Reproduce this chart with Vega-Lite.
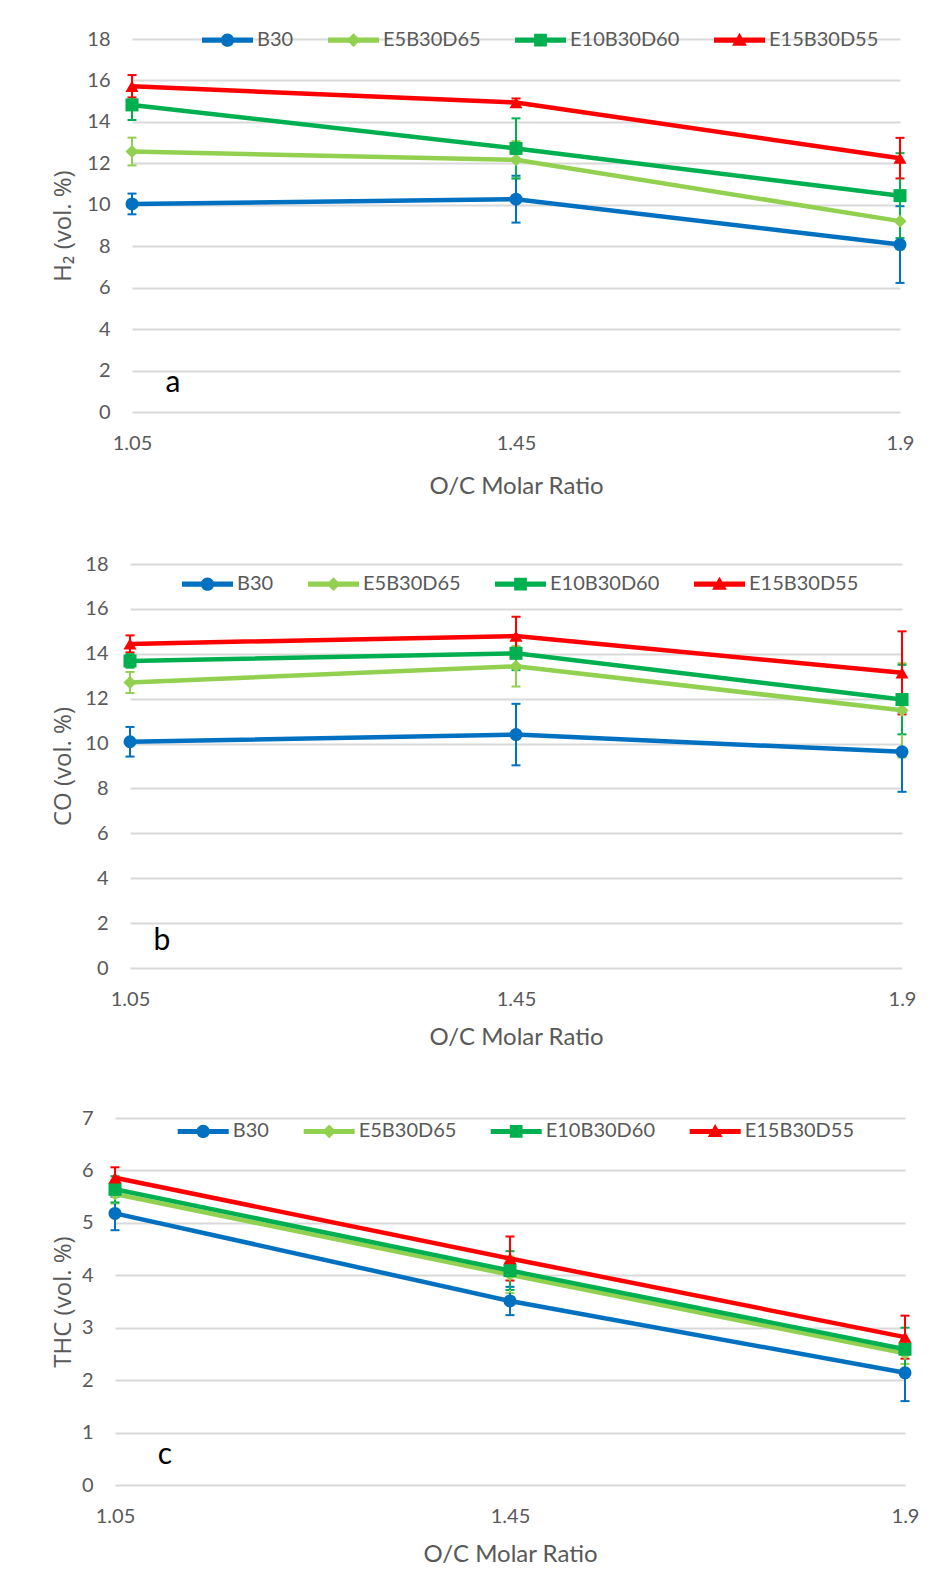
{
  "$schema": "https://vega.github.io/schema/vega-lite/v6.json",
  "background": "white",
  "padding": {"left": 50, "top": 14, "right": 0, "bottom": 0},
  "datasets": {
    "h2": [
      {"ratio": "1.05", "series": "B30", "value": 10.04, "err": 0.5},
      {"ratio": "1.45", "series": "B30", "value": 10.27, "err": 1.13},
      {"ratio": "1.9", "series": "B30", "value": 8.08, "err": 1.85},
      {"ratio": "1.05", "series": "E5B30D65", "value": 12.57, "err": 0.67},
      {"ratio": "1.45", "series": "E5B30D65", "value": 12.17, "err": 0.9},
      {"ratio": "1.9", "series": "E5B30D65", "value": 9.21, "err": 1.36},
      {"ratio": "1.05", "series": "E10B30D60", "value": 14.82, "err": 0.73},
      {"ratio": "1.45", "series": "E10B30D60", "value": 12.72, "err": 1.45},
      {"ratio": "1.9", "series": "E10B30D60", "value": 10.44, "err": 2.05},
      {"ratio": "1.05", "series": "E15B30D55", "value": 15.72, "err": 0.54},
      {"ratio": "1.45", "series": "E15B30D55", "value": 14.93, "err": 0.2},
      {"ratio": "1.9", "series": "E15B30D55", "value": 12.25, "err": 0.98}
    ],
    "co": [
      {"ratio": "1.05", "series": "B30", "value": 10.08, "err": 0.66},
      {"ratio": "1.45", "series": "B30", "value": 10.4, "err": 1.37},
      {"ratio": "1.9", "series": "B30", "value": 9.63, "err": 1.78},
      {"ratio": "1.05", "series": "E5B30D65", "value": 12.72, "err": 0.47},
      {"ratio": "1.45", "series": "E5B30D65", "value": 13.44, "err": 0.9},
      {"ratio": "1.9", "series": "E5B30D65", "value": 11.48, "err": 2.1},
      {"ratio": "1.05", "series": "E10B30D60", "value": 13.68, "err": 0.3},
      {"ratio": "1.45", "series": "E10B30D60", "value": 14.02, "err": 0.75},
      {"ratio": "1.9", "series": "E10B30D60", "value": 11.96, "err": 1.55},
      {"ratio": "1.05", "series": "E15B30D55", "value": 14.44, "err": 0.38},
      {"ratio": "1.45", "series": "E15B30D55", "value": 14.79, "err": 0.86},
      {"ratio": "1.9", "series": "E15B30D55", "value": 13.15, "err": 1.85}
    ],
    "thc": [
      {"ratio": "1.05", "series": "B30", "value": 5.18, "err": 0.32},
      {"ratio": "1.45", "series": "B30", "value": 3.51, "err": 0.27},
      {"ratio": "1.9", "series": "B30", "value": 2.14, "err": 0.54},
      {"ratio": "1.05", "series": "E5B30D65", "value": 5.55, "err": 0.18},
      {"ratio": "1.45", "series": "E5B30D65", "value": 4.01, "err": 0.35},
      {"ratio": "1.9", "series": "E5B30D65", "value": 2.51, "err": 0.2},
      {"ratio": "1.05", "series": "E10B30D60", "value": 5.64, "err": 0.25},
      {"ratio": "1.45", "series": "E10B30D60", "value": 4.09, "err": 0.37},
      {"ratio": "1.9", "series": "E10B30D60", "value": 2.59, "err": 0.41},
      {"ratio": "1.05", "series": "E15B30D55", "value": 5.86, "err": 0.2},
      {"ratio": "1.45", "series": "E15B30D55", "value": 4.32, "err": 0.42},
      {"ratio": "1.9", "series": "E15B30D55", "value": 2.82, "err": 0.41}
    ]
  },
  "columns": 1,
  "spacing": 56,
  "concat": [
    {"resolve": {"legend": {"color": "independent"}}, "spacing": 0, "hconcat": [
    {"width": 1, "height": 1, "data": {"values": []}, "mark": {"type": "rect"}},
    {
      "width": 768, "height": 373,
      "data": {"name": "h2"},
      "encoding": {
        "x": {"field": "ratio", "type": "ordinal", "scale": {"type": "point", "domain": ["1.05", "m1", "1.45", "m2", "1.9"], "padding": 0}, "axis": {"title": "O/C Molar Ratio", "titlePadding": 21, "labelAngle": 0, "labelExpr": "datum.value == 'm1' || datum.value == 'm2' ? '' : datum.value"}},
        "y": {"field": "value", "type": "quantitative", "scale": {"domain": [0, 18], "nice": false}, "axis": {"title": "H₂ (vol. %)", "values": [0, 2, 4, 6, 8, 10, 12, 14, 16, 18]}}
      },
      "layer": [
        {"mark": {"type": "errorbar", "ticks": {"size": 9, "thickness": 2, "opacity": 1}, "thickness": 2, "opacity": 1},
         "encoding": {"yError": {"field": "err"}, "color": {"field": "series", "type": "nominal", "scale": {"domain": ["B30", "E5B30D65", "E10B30D60", "E15B30D55"], "range": ["#0070C0", "#92D050", "#00B050", "#FF0000"]}}}},
        {"mark": {"type": "line", "strokeWidth": 4.5},
         "encoding": {"color": {"field": "series", "type": "nominal", "scale": {"domain": ["B30", "E5B30D65", "E10B30D60", "E15B30D55"], "range": ["#0070C0", "#92D050", "#00B050", "#FF0000"]},
           "legend": {"orient": "none", "legendX": 70, "legendY": -24.6, "direction": "horizontal", "columns": 4, "title": null, "symbolSize": 2601, "symbolStrokeWidth": 0, "labelFont": "Lato", "labelFontSize": 20, "labelColor": "#595959", "labelOffset": 4, "columnPadding": 34, "padding": 0,
             "encode": {"symbols": {"update": {
               "shape": {"signal": "datum.value == 'B30' ? 'M-1,-0.1L1,-0.1L1,0.1L-1,0.1Z M-0.26,0A0.26,0.26 0 1,1 0.26,0A0.26,0.26 0 1,1 -0.26,0Z' : datum.value == 'E5B30D65' ? 'M-1,-0.1L1,-0.1L1,0.1L-1,0.1Z M0,-0.27L0.27,0L0,0.27L-0.27,0Z' : datum.value == 'E10B30D60' ? 'M-1,-0.1L1,-0.1L1,0.1L-1,0.1Z M-0.25,-0.25L0.25,-0.25L0.25,0.25L-0.25,0.25Z' : 'M-1,-0.1L1,-0.1L1,0.1L-1,0.1Z M0,-0.29L0.29,0.22L-0.29,0.22Z'"},
               "fill": {"signal": "datum.value == 'B30' ? '#0070C0' : datum.value == 'E5B30D65' ? '#92D050' : datum.value == 'E10B30D60' ? '#00B050' : '#FF0000'"},
               "size": {"value": 2601}, "opacity": {"value": 1}, "strokeWidth": {"value": 0}}}}}}}},
        {"mark": {"type": "point", "filled": true, "size": 170, "opacity": 1},
         "encoding": {"color": {"field": "series", "type": "nominal", "scale": {"domain": ["B30", "E5B30D65", "E10B30D60", "E15B30D55"], "range": ["#0070C0", "#92D050", "#00B050", "#FF0000"]}},
           "shape": {"field": "series", "type": "nominal", "scale": {"domain": ["B30", "E5B30D65", "E10B30D60", "E15B30D55"], "range": ["circle", "diamond", "square", "triangle-up"]}, "legend": null}}},
        {"data": {"values": [{"label": "a", "ratio": "1.05", "value": 1.4}]}, "mark": {"type": "text", "dx": 41, "font": "Lato", "fontSize": 30, "color": "black"},
         "encoding": {"text": {"field": "label", "type": "nominal"}}}
      ]
    }]},
    {"resolve": {"legend": {"color": "independent"}}, "spacing": 0, "hconcat": [
    {"width": 1, "height": 1, "data": {"values": []}, "mark": {"type": "rect"}},
    {
      "width": 772, "height": 404,
      "data": {"name": "co"},
      "encoding": {
        "x": {"field": "ratio", "type": "ordinal", "scale": {"type": "point", "domain": ["1.05", "m1", "1.45", "m2", "1.9"], "padding": 0}, "axis": {"title": "O/C Molar Ratio", "labelAngle": 0, "labelExpr": "datum.value == 'm1' || datum.value == 'm2' ? '' : datum.value"}},
        "y": {"field": "value", "type": "quantitative", "scale": {"domain": [0, 18], "nice": false}, "axis": {"title": "CO (vol. %)", "titlePadding": 9, "values": [0, 2, 4, 6, 8, 10, 12, 14, 16, 18]}}
      },
      "layer": [
        {"mark": {"type": "errorbar", "ticks": {"size": 9, "thickness": 2, "opacity": 1}, "thickness": 2, "opacity": 1},
         "encoding": {"yError": {"field": "err"}, "color": {"field": "series", "type": "nominal", "scale": {"domain": ["B30", "E5B30D65", "E10B30D60", "E15B30D55"], "range": ["#0070C0", "#92D050", "#00B050", "#FF0000"]}}}},
        {"mark": {"type": "line", "strokeWidth": 4.5},
         "encoding": {"color": {"field": "series", "type": "nominal", "scale": {"domain": ["B30", "E5B30D65", "E10B30D60", "E15B30D55"], "range": ["#0070C0", "#92D050", "#00B050", "#FF0000"]},
           "legend": {"orient": "none", "legendX": 52, "legendY": -5.6, "direction": "horizontal", "columns": 4, "title": null, "symbolSize": 2601, "symbolStrokeWidth": 0, "labelFont": "Lato", "labelFontSize": 20, "labelColor": "#595959", "labelOffset": 4, "columnPadding": 34, "padding": 0,
             "encode": {"symbols": {"update": {
               "shape": {"signal": "datum.value == 'B30' ? 'M-1,-0.1L1,-0.1L1,0.1L-1,0.1Z M-0.26,0A0.26,0.26 0 1,1 0.26,0A0.26,0.26 0 1,1 -0.26,0Z' : datum.value == 'E5B30D65' ? 'M-1,-0.1L1,-0.1L1,0.1L-1,0.1Z M0,-0.27L0.27,0L0,0.27L-0.27,0Z' : datum.value == 'E10B30D60' ? 'M-1,-0.1L1,-0.1L1,0.1L-1,0.1Z M-0.25,-0.25L0.25,-0.25L0.25,0.25L-0.25,0.25Z' : 'M-1,-0.1L1,-0.1L1,0.1L-1,0.1Z M0,-0.29L0.29,0.22L-0.29,0.22Z'"},
               "fill": {"signal": "datum.value == 'B30' ? '#0070C0' : datum.value == 'E5B30D65' ? '#92D050' : datum.value == 'E10B30D60' ? '#00B050' : '#FF0000'"},
               "size": {"value": 2601}, "opacity": {"value": 1}, "strokeWidth": {"value": 0}}}}}}}},
        {"mark": {"type": "point", "filled": true, "size": 170, "opacity": 1},
         "encoding": {"color": {"field": "series", "type": "nominal", "scale": {"domain": ["B30", "E5B30D65", "E10B30D60", "E15B30D55"], "range": ["#0070C0", "#92D050", "#00B050", "#FF0000"]}},
           "shape": {"field": "series", "type": "nominal", "scale": {"domain": ["B30", "E5B30D65", "E10B30D60", "E15B30D55"], "range": ["circle", "diamond", "square", "triangle-up"]}, "legend": null}}},
        {"data": {"values": [{"label": "b", "ratio": "1.05", "value": 1.2}]}, "mark": {"type": "text", "dx": 32, "font": "Lato", "fontSize": 30, "color": "black"},
         "encoding": {"text": {"field": "label", "type": "nominal"}}}
      ]
    }]},
    {"resolve": {"legend": {"color": "independent"}}, "spacing": 0, "hconcat": [
    {"width": 1, "height": 1, "data": {"values": []}, "mark": {"type": "rect"}},
    {
      "width": 790, "height": 367,
      "data": {"name": "thc"},
      "encoding": {
        "x": {"field": "ratio", "type": "ordinal", "scale": {"type": "point", "domain": ["1.05", "m1", "1.45", "m2", "1.9"], "padding": 0}, "axis": {"title": "O/C Molar Ratio", "labelAngle": 0, "labelExpr": "datum.value == 'm1' || datum.value == 'm2' ? '' : datum.value"}},
        "y": {"field": "value", "type": "quantitative", "scale": {"domain": [0, 7], "nice": false}, "axis": {"title": "THC (vol. %)", "titlePadding": 6, "values": [0, 1, 2, 3, 4, 5, 6, 7]}}
      },
      "layer": [
        {"mark": {"type": "errorbar", "ticks": {"size": 9, "thickness": 2, "opacity": 1}, "thickness": 2, "opacity": 1},
         "encoding": {"yError": {"field": "err"}, "color": {"field": "series", "type": "nominal", "scale": {"domain": ["B30", "E5B30D65", "E10B30D60", "E15B30D55"], "range": ["#0070C0", "#92D050", "#00B050", "#FF0000"]}}}},
        {"mark": {"type": "line", "strokeWidth": 4.5},
         "encoding": {"color": {"field": "series", "type": "nominal", "scale": {"domain": ["B30", "E5B30D65", "E10B30D60", "E15B30D55"], "range": ["#0070C0", "#92D050", "#00B050", "#FF0000"]},
           "legend": {"orient": "none", "legendX": 62.7, "legendY": -12.3, "direction": "horizontal", "columns": 4, "title": null, "symbolSize": 2601, "symbolStrokeWidth": 0, "labelFont": "Lato", "labelFontSize": 20, "labelColor": "#595959", "labelOffset": 4, "columnPadding": 34, "padding": 0,
             "encode": {"symbols": {"update": {
               "shape": {"signal": "datum.value == 'B30' ? 'M-1,-0.1L1,-0.1L1,0.1L-1,0.1Z M-0.26,0A0.26,0.26 0 1,1 0.26,0A0.26,0.26 0 1,1 -0.26,0Z' : datum.value == 'E5B30D65' ? 'M-1,-0.1L1,-0.1L1,0.1L-1,0.1Z M0,-0.27L0.27,0L0,0.27L-0.27,0Z' : datum.value == 'E10B30D60' ? 'M-1,-0.1L1,-0.1L1,0.1L-1,0.1Z M-0.25,-0.25L0.25,-0.25L0.25,0.25L-0.25,0.25Z' : 'M-1,-0.1L1,-0.1L1,0.1L-1,0.1Z M0,-0.29L0.29,0.22L-0.29,0.22Z'"},
               "fill": {"signal": "datum.value == 'B30' ? '#0070C0' : datum.value == 'E5B30D65' ? '#92D050' : datum.value == 'E10B30D60' ? '#00B050' : '#FF0000'"},
               "size": {"value": 2601}, "opacity": {"value": 1}, "strokeWidth": {"value": 0}}}}}}}},
        {"mark": {"type": "point", "filled": true, "size": 170, "opacity": 1},
         "encoding": {"color": {"field": "series", "type": "nominal", "scale": {"domain": ["B30", "E5B30D65", "E10B30D60", "E15B30D55"], "range": ["#0070C0", "#92D050", "#00B050", "#FF0000"]}},
           "shape": {"field": "series", "type": "nominal", "scale": {"domain": ["B30", "E5B30D65", "E10B30D60", "E15B30D55"], "range": ["circle", "diamond", "square", "triangle-up"]}, "legend": null}}},
        {"data": {"values": [{"label": "c", "ratio": "1.05", "value": 0.58}]}, "mark": {"type": "text", "dx": 50, "font": "Lato", "fontSize": 30, "color": "black"},
         "encoding": {"text": {"field": "label", "type": "nominal"}}}
      ]
    }]}
  ],
  "resolve": {"scale": {"y": "independent", "x": "independent", "color": "shared", "shape": "shared"}, "legend": {"color": "independent"}},
  "config": {
    "view": {"stroke": null},
    "axis": {"ticks": false, "domain": false, "labelFont": "Lato", "labelFontSize": 20, "labelColor": "#595959", "titleColor": "#595959", "titleFontWeight": "normal"},
    "axisX": {"labelPadding": 21, "titleFont": "Lato", "titleFontSize": 24, "titlePadding": 16, "gridColor": "#e0e0e0", "gridWidth": 1.5},
    "axisY": {"labelPadding": 22, "titleFont": "Open Sans", "titleFontSize": 24, "titlePadding": 11, "gridColor": "#d9d9d9", "gridWidth": 2}
  }
}
